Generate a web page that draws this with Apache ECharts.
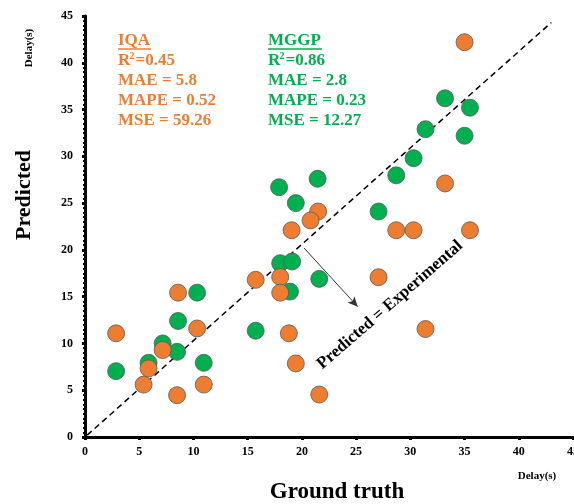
<!DOCTYPE html>
<html>
<head>
<meta charset="utf-8">
<script src="https://cdn.jsdelivr.net/npm/echarts@6/dist/echarts.min.js"></script>
<style>
  html, body { margin: 0; padding: 0; background: #fff; }
  #chart { width: 574px; height: 504px; }
</style>
</head>
<body>
<div id="chart"></div>
<script>
// ground truth / predicted pairs
const iqaPoints = [
  [35.0, 42.2], [33.2, 27.1], [21.5, 24.1], [20.8, 23.15], [19.05, 22.1],
  [28.7, 22.1], [30.3, 22.1], [35.5, 22.1], [18.0, 17.1], [18.0, 15.43],
  [27.07, 17.08], [15.74, 16.8], [8.58, 15.43], [10.34, 11.6], [2.87, 11.08],
  [18.8, 11.08], [7.16, 9.29], [5.86, 7.33], [19.44, 7.86], [5.4, 5.6],
  [10.95, 5.6], [8.49, 4.47], [21.6, 4.54], [31.4, 11.54]
];
const mggpPoints = [
  [33.2, 36.2], [35.5, 35.2], [31.4, 32.9], [35.0, 32.2], [30.3, 29.8],
  [28.7, 27.97], [21.45, 27.6], [17.9, 26.7], [19.44, 25.0], [27.07, 24.1],
  [18.0, 18.58], [19.1, 18.76], [18.9, 15.54], [21.6, 16.9], [10.34, 15.43],
  [8.58, 12.4], [15.74, 11.36], [7.16, 10.0], [8.49, 9.1], [5.86, 7.93],
  [2.87, 7.04], [10.95, 7.93]
];
const idealLine = [[0.2, 0.2], [43, 44.3]];
const arrowLine = [[20.2, 20.2], [25.15, 13.93]];
const iqaStats = ['IQA', '0.45', 'MAE = 5.8', 'MAPE = 0.52', 'MSE = 59.26'];
const mggpStats = ['MGGP', '0.86', 'MAE = 2.8', 'MAPE = 0.23', 'MSE = 12.27'];

const ORANGE = '#ED7D31';
const GREEN = '#00B050';
const FONT = 'Liberation Serif';

let chart = echarts.init(document.getElementById('chart'));

function axisCommon() {
  return {
    type: 'value',
    min: 0,
    max: 45,
    interval: 5,
    axisLine: { show: true, onZero: false, lineStyle: { color: '#000', width: 3 } },
    axisTick: { show: true, inside: false, length: 3, lineStyle: { color: '#000', width: 3 } },
    minorTick: { show: true, splitNumber: 5, length: 2, lineStyle: { color: '#000', width: 2 } },
    splitLine: { show: false },
    axisLabel: { color: '#000', fontFamily: FONT, fontWeight: 'bold', fontSize: 12 }
  };
}

function txt(x, y, text, size, color, extra) {
  return Object.assign({
    type: 'text', x: x, y: y,
    style: {
      text: text, fontFamily: FONT, fontWeight: 'bold', fontSize: size,
      fill: color, verticalAlign: 'middle'
    }
  }, extra || {});
}

// stat block for one model
function statBlock(stats, x, color) {
  let els = [
    txt(x, 41, stats[0], 17, color),
    { type: 'line', shape: { x1: x, y1: 49, x2: x + (stats[0].length > 3 ? 54 : 33), y2: 49 }, style: { stroke: color, lineWidth: 1.3 } },
    txt(x, 61, 'R', 17, color),
    txt(x + 11.5, 56, '2', 10, color),
    txt(x + 17.5, 61, '=' + stats[1], 17, color)
  ];
  for (let i = 2; i < stats.length; i++) {
    els.push(txt(x, 81 + (i - 2) * 20, stats[i], 17, color));
  }
  return els;
}

function centered(x, y, text, size, rot) {
  let el = txt(x, y, text, size, '#000', { rotation: rot || 0 });
  el.style.align = 'center';
  return el;
}

var option = {
  animation: false,
  backgroundColor: '#fff',
  grid: { left: 85, right: 1, top: 16, bottom: 67, outerBoundsMode: 'none', containLabel: false },
  xAxis: Object.assign(axisCommon(), {
    axisLabel: { color: '#000', fontFamily: FONT, fontWeight: 'bold', fontSize: 12, margin: 9 }
  }),
  yAxis: Object.assign(axisCommon(), {
    axisLabel: { color: '#000', fontFamily: FONT, fontWeight: 'bold', fontSize: 12, margin: 12 },
    minorTick: { show: true, splitNumber: 10, length: 2, lineStyle: { color: '#000', width: 2 } }
  }),
  series: [
    {
      name: 'ideal',
      type: 'line',
      data: idealLine,
      symbol: 'none',
      z: 1,
      lineStyle: { color: '#000', width: 1.5, type: [6, 4] }
    },
    {
      name: 'MGGP',
      type: 'scatter',
      data: mggpPoints,
      symbolSize: 17,
      z: 3,
      itemStyle: { color: GREEN, borderColor: '#595959', borderWidth: 0.8, opacity: 1 }
    },
    {
      name: 'IQA',
      type: 'scatter',
      data: iqaPoints,
      symbolSize: 17,
      z: 4,
      itemStyle: { color: ORANGE, borderColor: '#595959', borderWidth: 0.8, opacity: 1 },
      markLine: {
        silent: true,
        symbol: ['none', 'arrow'],
        symbolSize: [7, 10],
        label: { show: false },
        lineStyle: { color: '#333', width: 1, type: 'solid' },
        data: [[{ coord: arrowLine[0] }, { coord: arrowLine[1] }]]
      }
    }
  ],
  graphic: [
    ...statBlock(iqaStats, 118, ORANGE),
    ...statBlock(mggpStats, 268, GREEN),
    centered(390, 305, 'Predicted = Experimental', 17, 41 * Math.PI / 180),
    centered(29, 48, 'Delay(s)', 11, Math.PI / 2),
    centered(24, 195, 'Predicted', 22, Math.PI / 2),
    centered(337, 492, 'Ground truth', 23),
    centered(537, 476, 'Delay(s)', 11)
  ]
};
option && chart.setOption(option);
</script>
</body>
</html>
